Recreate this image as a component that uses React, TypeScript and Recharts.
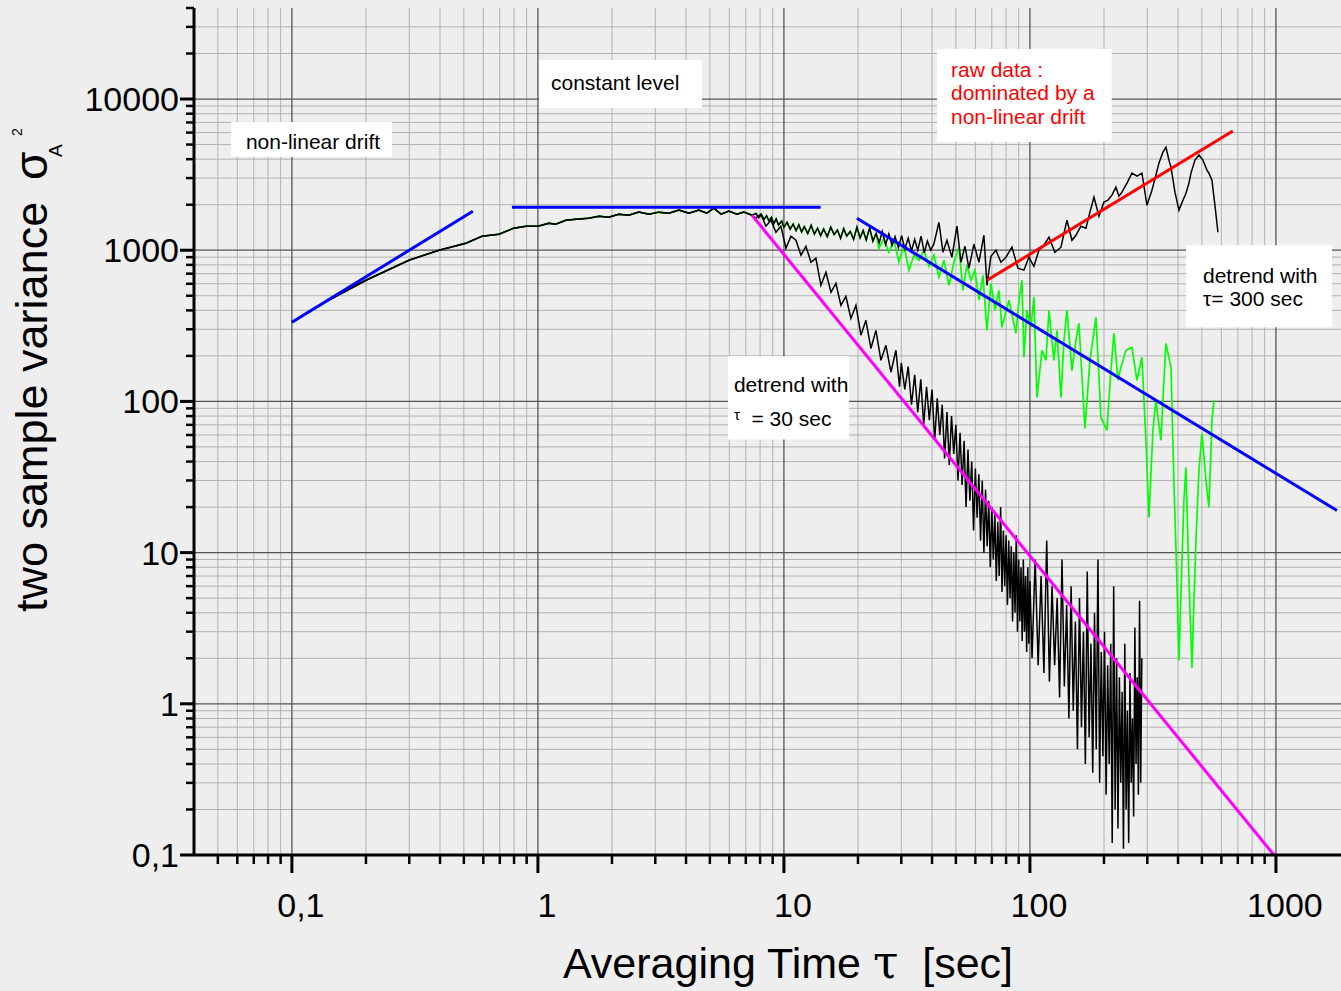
import React from "react";
import { LineChart, Line, XAxis, YAxis, ReferenceLine, ReferenceArea } from "recharts";

// tau [s] , sigma_A^2  -- all three curves are identical up to ~7 s
const sharedStart: [number, number][] = [
  [0.1, 334], [0.141, 467], [0.2, 633], [0.299, 859], [0.396, 1000], [0.51, 1113],
  [0.592, 1238], [0.694, 1277], [0.798, 1399], [0.894, 1442], [1.0, 1442], [1.108, 1510],
  [1.18, 1487], [1.3, 1580], [1.43, 1604], [1.61, 1629], [1.77, 1680], [1.94, 1655],
  [2.13, 1731], [2.34, 1706], [2.57, 1786], [2.83, 1731], [3.1, 1786], [3.41, 1758],
  [3.74, 1841], [4.11, 1758], [4.51, 1841], [4.86, 1758], [5.19, 1897], [5.55, 1731],
  [5.97, 1813], [6.44, 1731], [6.87, 1786], [7.41, 1706],
];

// raw data after the split
const rawTail: [number, number][] = [
  [7.7, 1750], [7.9, 1640], [8.1, 1720], [8.3, 1600], [8.5, 1690], [8.7, 1560], [8.9, 1650],
  [9.1, 1500], [9.3, 1610], [9.5, 1470], [9.8, 1560], [10.0, 1420], [10.3, 1530], [10.6, 1380],
  [10.9, 1490], [11.2, 1350], [11.5, 1470], [11.8, 1320], [12.1, 1430], [12.5, 1290], [12.9, 1460],
  [13.3, 1280], [13.7, 1400], [14.1, 1250], [14.5, 1380], [15.0, 1230], [15.5, 1420], [16.0, 1270],
  [16.5, 1360], [17.0, 1200], [17.5, 1390], [18.0, 1240], [18.6, 1330], [19.2, 1180], [19.8, 1420],
  [20.4, 1210], [21.0, 1350], [21.6, 1170], [22.3, 1400], [23.0, 1150], [23.7, 1290], [24.4, 1120],
  [25.1, 1330], [25.9, 1090], [26.7, 1280], [27.5, 1080], [28.3, 1230], [29.2, 1040], [30.1, 1250],
  [31.0, 1020], [32.0, 1200], [33.0, 990], [34.0, 1180], [35.0, 1000], [36.1, 1240], [37.2, 960],
  [38.3, 1150], [39.5, 1000], [40.7, 1100],
  [42.67, 1531], [44.3, 970], [45.99, 1164], [48.19, 899],
  [50.5, 1442], [52.43, 833], [54.43, 1062], [56.49, 760], [59.21, 1096], [62.04, 833],
  [65.01, 1256], [66.87, 586], [69.42, 912], [72.74, 1000], [76.22, 833], [79.87, 899],
  [84.52, 1047], [89.4, 760], [94.54, 738], [99.06, 899], [103.8, 783], [108.8, 1000],
  [114.0, 1079], [119.5, 1219], [126.3, 970], [133.7, 1047], [141.4, 1580], [148.2, 1164],
  [153.8, 1256], [161.2, 1442], [168.9, 1399], [175.4, 1786], [182.1, 2244], [190.8, 1680],
  [199.9, 2080], [207.6, 2143], [215.4, 2312], [223.7, 2612], [230.0, 2279], [236.6, 2421],
  [248.0, 2779], [259.8, 3236], [272.3, 3091], [285.3, 3236], [298.9, 1986], [313.3, 2495],
  [325.2, 3139], [334.5, 3767], [347.3, 4457], [357.2, 4808], [367.3, 3945], [374.4, 3545],
  [388.6, 2421], [403.4, 1841], [418.8, 2143], [430.7, 2384], [443.0, 2779], [451.4, 3236],
  [468.6, 3945], [486.4, 4259], [505.0, 3945], [524.2, 3388], [534.1, 3236], [549.3, 2909],
  [564.9, 1986], [581.0, 1315],
];

// detrended with tau = 300 s (green), own values from ~24 s on
const detrend300Tail: [number, number][] = [
  [24.33, 1030], [25.49, 1199], [26.72, 970], [28.0, 1164], [29.34, 833], [30.74, 1079],
  [32.22, 738], [33.77, 927], [35.38, 859], [37.07, 1000], [38.85, 783], [40.72, 927],
  [42.67, 663], [44.71, 859], [46.85, 586], [49.1, 833], [51.45, 1047], [53.41, 543],
  [55.44, 796], [57.56, 633], [59.76, 738], [62.04, 467], [64.41, 683], [66.87, 295],
  [69.42, 604], [72.06, 401], [74.82, 543], [76.93, 309], [82.18, 467], [87.73, 282],
  [90.23, 467], [92.8, 633], [94.54, 196], [97.23, 401], [100.9, 309], [103.8, 489],
  [106.8, 106], [111.9, 218], [116.2, 187], [119.5, 401], [125.2, 187], [128.8, 295],
  [133.7, 106], [137.5, 254], [141.4, 401], [148.2, 160], [153.8, 254], [158.2, 329],
  [167.3, 66.2], [175.4, 187], [185.5, 360], [194.4, 78.3], [205.6, 64.3], [213.4, 160],
  [219.5, 282], [227.9, 138], [234.4, 168], [245.6, 218], [259.8, 228], [272.3, 138],
  [285.3, 196], [296.1, 55.2], [304.6, 17.1], [316.2, 64.3], [325.2, 102], [340.8, 55.2],
  [350.5, 138], [357.2, 242], [374.4, 168], [384.9, 28.6], [395.9, 6.53], [403.4, 1.93],
  [414.9, 8.85], [422.7, 22.1], [430.7, 36.6], [443.0, 6.53], [455.6, 1.73], [464.2, 4.81],
  [473.0, 12.0], [486.4, 34.9], [500.4, 61.4], [519.3, 30.0], [534.1, 19.9], [549.3, 74.8],
  [559.8, 102],
];

// detrended with tau = 30 s (black, falling)
const detrend30Tail: [number, number][] = [
  [7.69, 1629], [8.06, 1731], [8.45, 1442], [8.86, 1580], [9.28, 1315], [9.72, 1442],
  [10.19, 1030], [10.68, 1238], [11.19, 1164], [11.73, 927], [12.29, 1062], [12.88, 833],
  [13.49, 885], [14.14, 586], [14.82, 715], [15.53, 527], [16.27, 604], [17.05, 432],
  [17.86, 496], [18.72, 354], [19.62, 432], [20.56, 274], [21.54, 344], [22.57, 224],
  [23.66, 295], [24.79, 187], [25.98, 235], [27.22, 156], [28.53, 218], [29.5, 125],
  [30, 180], [31, 120], [32, 170], [33, 95], [34, 150], [35, 85], [36, 140], [37, 70],
  [38, 125], [39, 75], [40, 120], [41, 55], [42, 105], [43, 60], [44, 95], [45, 42],
  [46, 85], [47, 38], [48, 80], [49, 45], [50, 70], [51, 30], [52, 62], [53, 28],
  [54, 55], [55, 20], [56, 48], [57, 22], [58, 40], [59, 14], [60, 36], [61, 17],
  [62, 33], [63, 12], [64, 30], [65, 10], [66, 26], [67, 11], [68, 22], [69, 8],
  [70, 20], [71, 9], [72, 18], [73, 6.5], [74, 16], [75, 7], [76, 20], [77, 5.5],
  [78, 14], [79, 6], [80, 13], [81, 4.5], [82, 12], [83, 5], [84, 11], [85, 3.5],
  [86, 10], [87, 4], [88, 13], [89, 3], [90, 9], [91, 3.5], [92, 8], [93, 2.6],
  [94, 9], [95, 3], [96, 7], [97, 2.2], [98, 8], [99, 2.5], [100, 6.5],
  [102, 2], [105, 9], [108, 1.8], [111, 7], [114, 1.6], [117, 12], [120, 1.4], [123, 6],
  [126, 1.8], [129, 5], [132, 1.1], [135, 9], [138, 1.3], [141, 4.5], [144, 0.8], [147, 6],
  [150, 0.9], [153, 3.5], [156, 0.5], [159, 5], [162, 0.7], [165, 3], [168, 0.4], [171, 7.5],
  [174, 0.6], [177, 2.5], [180, 0.35], [183, 4], [186, 0.5], [189, 9], [192, 0.3], [195, 2.2],
  [198, 0.45], [201, 3], [204, 0.25], [207, 1.8], [210, 0.4], [213, 2.5], [216, 0.12], [219, 6],
  [222, 0.2], [225, 2], [228, 0.15], [231, 1.5], [234, 0.3], [237, 1.2], [240, 0.11], [243, 2.5],
  [246, 0.2], [249, 0.9], [252, 0.12], [255, 1.6], [258, 0.3], [261, 0.8], [264, 0.18], [267, 3.2],
  [270, 0.4], [273, 1.5], [276, 0.25], [279, 4.8], [282, 0.3], [285, 2],
];

// straight fit lines (end points)
const fitRise: [number, number][] = [[0.1, 334], [0.544, 1813]];
const fitFlat: [number, number][] = [[0.784, 1927], [14.1, 1927]];
const fitFall300: [number, number][] = [[19.8, 1629], [1770, 19.0]];
const fitRawDrift: [number, number][] = [[66.9, 633], [668, 6138]];
const fitFall30: [number, number][] = [[7.41, 1706], [982, 0.1]];

const xMajor = [0.1, 1, 10, 100, 1000];
const xMinor = [
  0.05, 0.06, 0.07, 0.08, 0.09,
  0.2, 0.3, 0.4, 0.5, 0.6, 0.7, 0.8, 0.9,
  2, 3, 4, 5, 6, 7, 8, 9,
  20, 30, 40, 50, 60, 70, 80, 90,
  200, 300, 400, 500, 600, 700, 800, 900,
];
const yMajor = [0.1, 1, 10, 100, 1000, 10000];
const yMinor = [
  0.2, 0.3, 0.4, 0.5, 0.6, 0.7, 0.8, 0.9,
  2, 3, 4, 5, 6, 7, 8, 9,
  20, 30, 40, 50, 60, 70, 80, 90,
  200, 300, 400, 500, 600, 700, 800, 900,
  2000, 3000, 4000, 5000, 6000, 7000, 8000, 9000,
  20000, 30000,
];
const majorText: Record<string, string> = {
  "0.1": "0,1", "1": "1", "10": "10", "100": "100", "1000": "1000", "10000": "10000",
};

const FONT = "'Liberation Sans', Arial, Helvetica, sans-serif";

const pts = (a: [number, number][]) => a.map(([t, v]) => ({ t, v }));
const rawData = pts([...sharedStart, ...rawTail]);
const green300Data = pts([...sharedStart, ...rawTail.filter(([t]) => t < 24), ...detrend300Tail]);
const black30Data = pts([...sharedStart, ...detrend30Tail]);

function BottomTick({ x, y, payload }: any) {
  const major = xMajor.includes(payload.value);
  return (
    <g>
      <line x1={x} x2={x} y1={y} y2={y + (major ? 18 : 9)} stroke="#000" strokeWidth={major ? 3 : 2.5} />
      {major && (
        <text x={x + 9} y={y + 62} textAnchor="middle" fontSize={34} fontFamily={FONT} fill="#000">
          {majorText[String(payload.value)]}
        </text>
      )}
    </g>
  );
}

function TopTick({ x, y, payload }: any) {
  const major = xMajor.includes(payload.value);
  return <line x1={x} x2={x} y1={y} y2={y + (major ? 16 : 8)} stroke="#000" strokeWidth={major ? 3 : 2.5} />;
}

function LeftTick({ x, y, payload }: any) {
  const major = yMajor.includes(payload.value);
  return (
    <g>
      <line x1={x - (major ? 14 : 8)} x2={x} y1={y} y2={y} stroke="#000" strokeWidth={major ? 3 : 2.5} />
      {major && (
        <text x={x - 15} y={y + 12} textAnchor="end" fontSize={34} fontFamily={FONT} fill="#000">
          {majorText[String(payload.value)]}
        </text>
      )}
    </g>
  );
}

function RightTick({ x, y }: any) {
  return <line x1={x - 17} x2={x} y1={y} y2={y} stroke="#000" strokeWidth={3} />;
}

function BoxText({ viewBox, lines, color = "#000", padX, top, gap }: any) {
  const { x, y } = viewBox;
  return (
    <text fontSize={21} fontFamily={FONT} fill={color} style={{ whiteSpace: "pre" }}>
      {lines.map((l: React.ReactNode, i: number) => (
        <tspan key={i} x={x + padX} y={y + top + i * gap}>
          {l}
        </tspan>
      ))}
    </text>
  );
}

const notes = [
  { x1: 0.0565, x2: 0.255, y1: 4130, y2: 7040, padX: 15, top: 27, gap: 23, lines: ["non-linear drift"] },
  { x1: 1.01, x2: 4.64, y1: 8720, y2: 18120, padX: 12, top: 30, gap: 23, lines: ["constant level"] },
  {
    x1: 41.9, x2: 215, y1: 5190, y2: 21430, padX: 14, top: 28, gap: 23.5, color: "#ff0000",
    lines: ["raw data :", "dominated by a", "non-linear drift"],
  },
  {
    x1: 431, x2: 1690, y1: 309, y2: 1080, padX: 17, top: 38, gap: 23,
    lines: ["detrend with", "\u03c4= 300 sec"],
  },
  {
    x1: 5.92, x2: 18.4, y1: 56, y2: 199, padX: 6, top: 36, gap: 34,
    lines: [
      "detrend with",
      <>
        <tspan fontSize={15} dy={-6}>{"\u03c4"}</tspan>
        <tspan dy={6}>{"  = 30 sec"}</tspan>
      </>,
    ],
  },
];

export default function App() {
  return (
    <div
      style={{
        position: "absolute", left: 0, top: 0, width: 1341, height: 991,
        overflow: "hidden", background: "#eeeeee",
      }}
    >
      <LineChart width={1350} height={991} margin={{ top: 8, right: 0, bottom: 0, left: 0 }}>
        <XAxis
          dataKey="t" type="number" scale="log" domain={[0.04, 2000]} allowDataOverflow
          ticks={[...xMajor, ...xMinor].sort((a, b) => a - b)} interval={0}
          tick={BottomTick} tickLine={false} tickSize={0} tickMargin={0} height={136}
          axisLine={{ stroke: "#000", strokeWidth: 3 }}
        />
        <XAxis
          xAxisId="top" orientation="top" dataKey="t" type="number" scale="log" domain={[0.04, 2000]}
          allowDataOverflow ticks={[...xMajor, ...xMinor].sort((a, b) => a - b)} interval={0}
          tick={TopTick} tickLine={false} tickSize={0} tickMargin={0} height={0}
          axisLine={{ stroke: "#000", strokeWidth: 3 }}
        />
        <YAxis
          dataKey="v" type="number" scale="log" domain={[0.1, 40000]} allowDataOverflow
          ticks={[...yMajor, ...yMinor, 40000].sort((a, b) => a - b)} interval={0}
          tick={LeftTick} tickLine={false} tickSize={0} tickMargin={0} width={194}
          axisLine={{ stroke: "#000", strokeWidth: 3 }}
        />
        <YAxis
          yAxisId="right" orientation="right" type="number" scale="log" domain={[0.1, 40000]}
          allowDataOverflow ticks={yMajor} interval={0} tick={RightTick} tickLine={false}
          tickSize={0} tickMargin={0} width={0} axisLine={false}
        />

        {xMinor.map((v) => (
          <ReferenceLine key={"xm" + v} x={v} stroke="#b2b2b2" strokeWidth={1} zIndex={-100} />
        ))}
        {yMinor.map((v) => (
          <ReferenceLine key={"ym" + v} y={v} stroke="#b2b2b2" strokeWidth={1} zIndex={-100} />
        ))}
        {xMajor.map((v) => (
          <ReferenceLine key={"xM" + v} x={v} stroke="#555555" strokeWidth={1.3} zIndex={-90} />
        ))}
        {yMajor.slice(1).map((v) => (
          <ReferenceLine key={"yM" + v} y={v} stroke="#555555" strokeWidth={1.3} zIndex={-90} />
        ))}

        {notes.map((n, i) => (
          <ReferenceArea
            key={"note" + i} x1={n.x1} x2={n.x2} y1={n.y1} y2={n.y2}
            fill="#ffffff" fillOpacity={1} stroke="none" zIndex={-50}
            label={<BoxText lines={n.lines} color={n.color} padX={n.padX} top={n.top} gap={n.gap} />}
          />
        ))}

        <Line data={green300Data} dataKey="v" type="linear" stroke="#00ff00" strokeWidth={1.7} dot={false} isAnimationActive={false} />
        <Line data={rawData} dataKey="v" type="linear" stroke="#000000" strokeWidth={1.5} dot={false} isAnimationActive={false} />
        <Line data={black30Data} dataKey="v" type="linear" stroke="#000000" strokeWidth={1.5} dot={false} isAnimationActive={false} />

        <Line data={pts(fitRise)} dataKey="v" type="linear" stroke="#0000ff" strokeWidth={3} dot={false} isAnimationActive={false} />
        <Line data={pts(fitFlat)} dataKey="v" type="linear" stroke="#0000ff" strokeWidth={3} dot={false} isAnimationActive={false} />
        <Line data={pts(fitFall300)} dataKey="v" type="linear" stroke="#0000ff" strokeWidth={3} dot={false} isAnimationActive={false} />
        <Line data={pts(fitRawDrift)} dataKey="v" type="linear" stroke="#ff0000" strokeWidth={3} dot={false} isAnimationActive={false} />
        <Line data={pts(fitFall30)} dataKey="v" type="linear" stroke="#ff00ff" strokeWidth={3} dot={false} isAnimationActive={false} />
      </LineChart>

      <svg
        width={1341} height={991}
        style={{ position: "absolute", left: 0, top: 0, pointerEvents: "none" }}
        fontFamily={FONT}
      >
        <text x={788} y={978} textAnchor="middle" fontSize={43} fill="#000" style={{ whiteSpace: "pre" }}>
          {"Averaging Time "}
          <tspan fontSize={46} fontFamily="'DejaVu Serif', serif">{"\u03c4"}</tspan>
          {"  [sec]"}
        </text>
        <g transform="translate(47,612) rotate(-90)" fill="#000">
          <text x={0} y={0} fontSize={45}>two sample variance</text>
          <text x={432} y={0} fontSize={46}>{"\u03c3"}</text>
          <text x={455} y={15} fontSize={19}>A</text>
          <text x={476} y={-25} fontSize={14}>2</text>
        </g>
      </svg>
    </div>
  );
}
